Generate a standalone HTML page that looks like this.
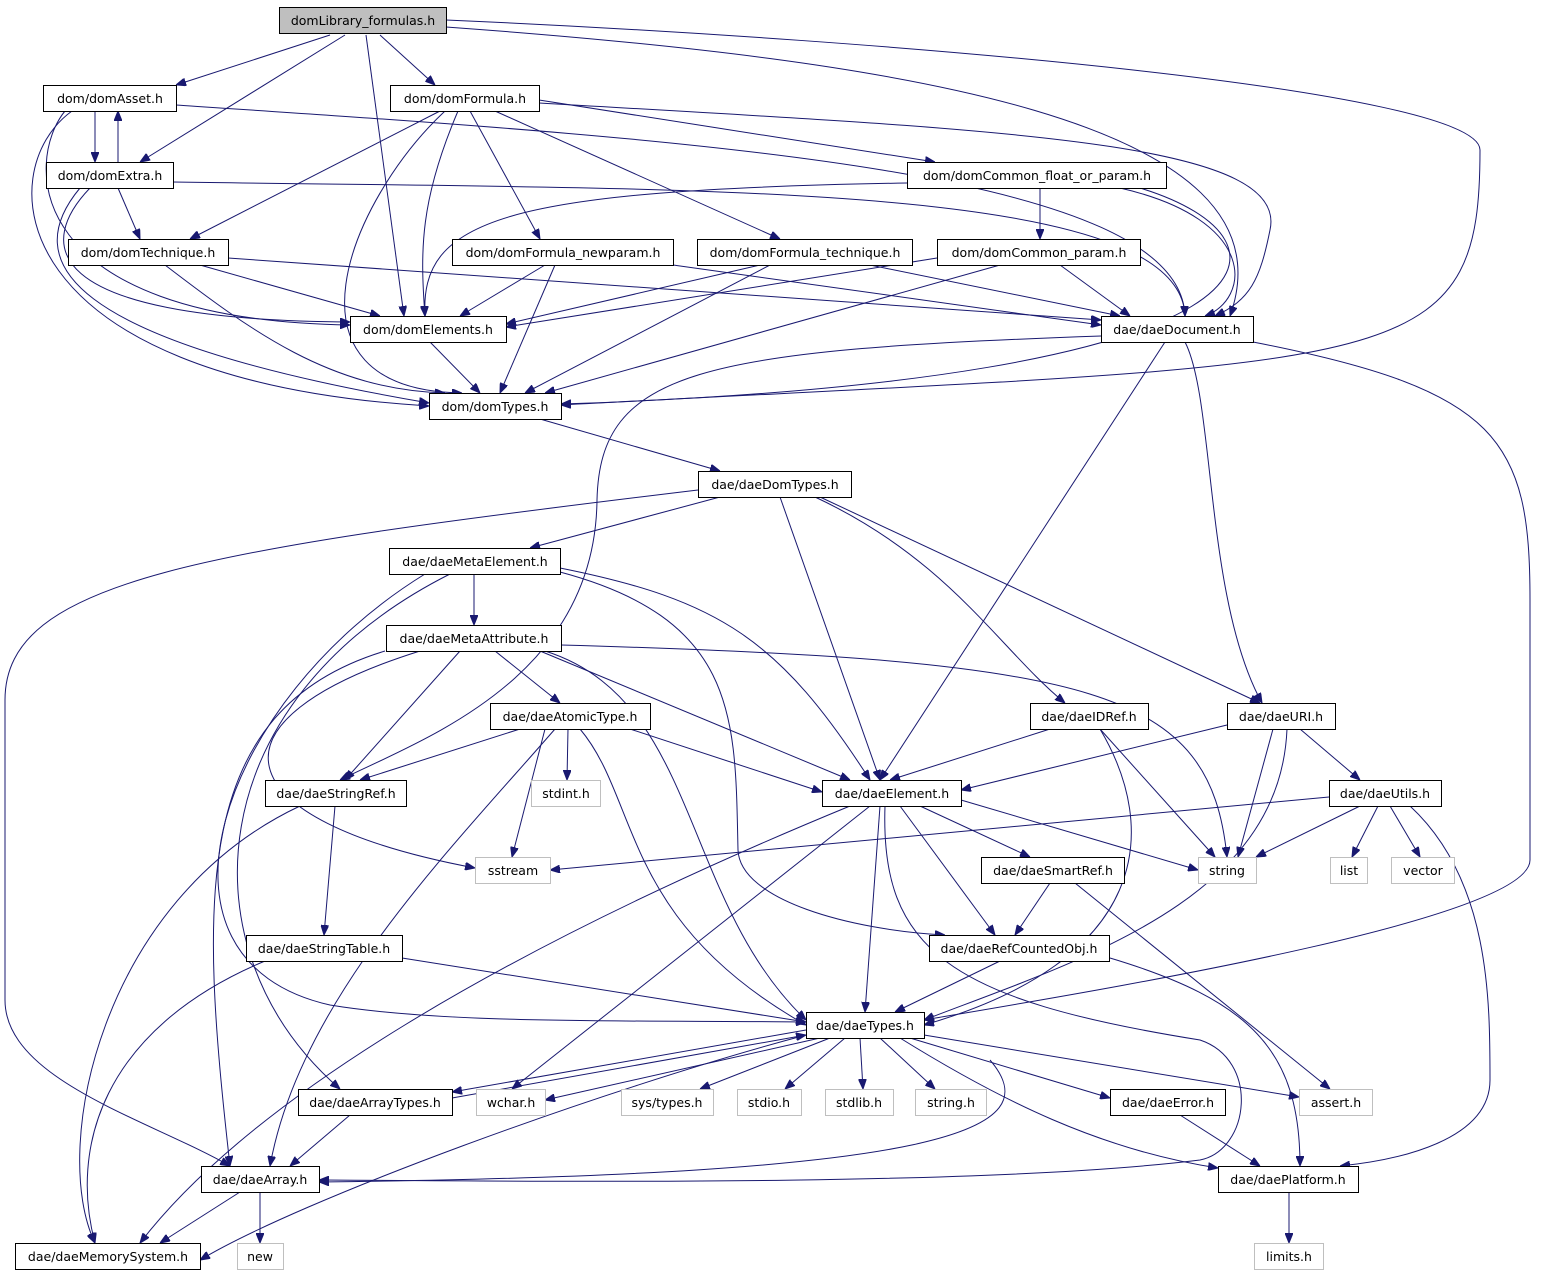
<!DOCTYPE html>
<html><head><meta charset="utf-8"><style>
html,body{margin:0;padding:0;background:#fff;}
svg{display:block;}
text{font-family:"DejaVu Sans","Liberation Sans",sans-serif;font-size:12.5px;fill:#000;}
.n rect{fill:#fff;stroke:#000;stroke-width:1;}
.g rect{fill:#fff;stroke:#bfbfbf;stroke-width:1;}
.g text{fill:#000;}
path{fill:none;stroke:#191970;stroke-width:1;marker-end:url(#a);}
</style></head><body>
<svg width="1548" height="1277" viewBox="0 0 1548 1277" xmlns="http://www.w3.org/2000/svg">
<defs><marker id="a" markerWidth="10" markerHeight="8" refX="10" refY="4" orient="auto" markerUnits="userSpaceOnUse"><polygon points="0,0 10,4 0,8" fill="#191970" stroke="#191970"/></marker></defs>

<!-- edges -->
<path d="M330,35 L176,85"/>
<path d="M345,35 L140,162"/>
<path d="M366,35 L404,316"/>
<path d="M380,35 L435,85"/>
<path d="M446,27 C900,60 1300,120 1230,316"/>
<path d="M446,20 C900,40 1480,90 1480,150 C1480,380 1400,360 561,405"/>
<path d="M95,111 L95,162"/>
<path d="M118,162 L118,111"/>
<path d="M72,111 C-10,170 0,380 429,406"/>
<path d="M65,111 C25,160 20,320 350,325"/>
<path d="M176,105 C700,140 1180,170 1185,316"/>
<path d="M440,111 L190,239"/>
<path d="M445,111 C350,200 270,390 462,393"/>
<path d="M458,111 C420,200 420,250 425,316"/>
<path d="M470,111 L540,239"/>
<path d="M495,111 L780,239"/>
<path d="M539,100 L935,162"/>
<path d="M539,103 C1000,130 1290,140 1270,230 C1260,280 1250,300 1215,316"/>
<path d="M118,188 L140,239"/>
<path d="M90,188 C40,240 30,320 350,322"/>
<path d="M80,188 C20,260 60,340 429,403"/>
<path d="M173,182 C700,190 1180,180 1185,316"/>
<path d="M907,183 C500,190 420,220 425,316"/>
<path d="M1040,188 L1040,239"/>
<path d="M1120,188 C1260,220 1250,300 1205,316"/>
<path d="M1140,188 C1310,240 1300,380 561,404"/>
<path d="M200,265 L380,316"/>
<path d="M165,265 C250,330 330,390 445,393"/>
<path d="M228,258 L1101,320"/>
<path d="M545,265 L460,316"/>
<path d="M555,265 L500,393"/>
<path d="M673,265 L1101,325"/>
<path d="M760,265 L506,324"/>
<path d="M770,265 L525,393"/>
<path d="M870,265 L1120,316"/>
<path d="M937,258 L506,327"/>
<path d="M1000,265 L545,393"/>
<path d="M1060,265 L1130,316"/>
<path d="M430,342 L480,393"/>
<path d="M1101,336 C700,350 600,370 597,500 C595,680 420,740 340,780"/>
<path d="M1165,342 L880,780"/>
<path d="M1185,342 C1215,400 1205,600 1262,703"/>
<path d="M1253,342 C1500,390 1530,440 1530,600 L1530,860 C1530,920 1100,990 924,1020"/>
<path d="M540,419 L720,471"/>
<path d="M698,490 C200,550 5,580 5,700 L5,1000 C5,1080 150,1120 230,1166"/>
<path d="M720,497 L530,548"/>
<path d="M780,497 L880,780"/>
<path d="M815,497 C950,560 1000,650 1065,703"/>
<path d="M820,497 L1260,703"/>
<path d="M474,574 L474,625"/>
<path d="M560,568 C720,600 780,640 870,780"/>
<path d="M560,572 C740,620 735,720 738,850 C740,900 850,930 945,935"/>
<path d="M425,574 C220,700 130,960 330,1005 C450,1025 650,1020 806,1022"/>
<path d="M450,574 C200,700 180,950 340,1089"/>
<path d="M495,651 L560,703"/>
<path d="M460,651 L345,780"/>
<path d="M540,651 L850,780"/>
<path d="M561,645 C1100,660 1210,690 1227,857"/>
<path d="M545,651 C700,700 680,900 806,1020"/>
<path d="M420,651 C200,720 220,820 475,868"/>
<path d="M385,651 C190,710 200,900 230,1166"/>
<path d="M520,729 L360,780"/>
<path d="M568,729 L567,780"/>
<path d="M545,729 L512,857"/>
<path d="M630,729 L822,792"/>
<path d="M580,729 C640,800 620,920 806,1025"/>
<path d="M555,729 C450,850 300,1000 270,1166"/>
<path d="M1050,729 L890,780"/>
<path d="M1100,729 L1215,857"/>
<path d="M1100,729 C1160,830 1150,960 924,1025"/>
<path d="M1227,725 L961,790"/>
<path d="M1273,729 L1238,857"/>
<path d="M1300,729 L1360,780"/>
<path d="M1287,729 C1280,900 1080,960 924,1020"/>
<path d="M1329,797 L550,870"/>
<path d="M1360,806 L1256,857"/>
<path d="M1378,806 L1352,857"/>
<path d="M1390,806 L1420,857"/>
<path d="M1410,806 C1490,880 1490,1000 1490,1080 C1490,1140 1400,1160 1340,1166"/>
<path d="M335,806 L324,935"/>
<path d="M300,806 C100,900 50,1150 95,1243"/>
<path d="M961,800 L1198,870"/>
<path d="M920,806 L1030,857"/>
<path d="M900,806 L995,935"/>
<path d="M880,806 L865,1012"/>
<path d="M870,806 L512,1089"/>
<path d="M850,806 C500,950 250,1100 140,1243"/>
<path d="M885,806 C880,950 950,1000 1200,1040 C1260,1060 1250,1150 1200,1160 C1000,1185 600,1182 319,1180"/>
<path d="M1050,883 L1015,935"/>
<path d="M1075,883 L1330,1089"/>
<path d="M402,958 L806,1022"/>
<path d="M265,961 C100,1030 70,1150 95,1243"/>
<path d="M1000,961 L895,1012"/>
<path d="M1110,958 C1250,1000 1300,1050 1300,1166"/>
<path d="M806,1030 L452,1092"/>
<path d="M452,1098 L806,1035"/>
<path d="M820,1038 L545,1100"/>
<path d="M830,1038 L700,1089"/>
<path d="M845,1038 L785,1089"/>
<path d="M860,1038 L863,1089"/>
<path d="M880,1038 L935,1089"/>
<path d="M910,1038 L1110,1098"/>
<path d="M924,1035 L1299,1097"/>
<path d="M900,1038 C1000,1100 1100,1150 1218,1168"/>
<path d="M806,1035 C600,1090 300,1200 200,1260"/>
<path d="M990,1060 C1050,1130 950,1175 319,1182"/>
<path d="M350,1115 L290,1166"/>
<path d="M240,1192 L160,1243"/>
<path d="M260,1192 L260,1243"/>
<path d="M1180,1115 L1260,1166"/>
<path d="M1289,1192 L1289,1243"/>

<!-- nodes -->
<g class="n"><rect x="279.5" y="7.5" width="167" height="26" style="fill:#bfbfbf"/><text x="363" y="25" text-anchor="middle">domLibrary_formulas.h</text></g>
<g class="n"><rect x="43.5" y="85.5" width="133" height="26"/><text x="110" y="103" text-anchor="middle">dom/domAsset.h</text></g>
<g class="n"><rect x="390.5" y="85.5" width="149" height="26"/><text x="465" y="103" text-anchor="middle">dom/domFormula.h</text></g>
<g class="n"><rect x="46.5" y="162.5" width="127" height="26"/><text x="110" y="180" text-anchor="middle">dom/domExtra.h</text></g>
<g class="n"><rect x="907.5" y="162.5" width="259" height="26"/><text x="1037" y="180" text-anchor="middle">dom/domCommon_float_or_param.h</text></g>
<g class="n"><rect x="68.5" y="239.5" width="160" height="26"/><text x="148" y="257" text-anchor="middle">dom/domTechnique.h</text></g>
<g class="n"><rect x="452.5" y="239.5" width="221" height="26"/><text x="563" y="257" text-anchor="middle">dom/domFormula_newparam.h</text></g>
<g class="n"><rect x="697.5" y="239.5" width="215" height="26"/><text x="805" y="257" text-anchor="middle">dom/domFormula_technique.h</text></g>
<g class="n"><rect x="937.5" y="239.5" width="203" height="26"/><text x="1039" y="257" text-anchor="middle">dom/domCommon_param.h</text></g>
<g class="n"><rect x="350.5" y="316.5" width="156" height="26"/><text x="428" y="334" text-anchor="middle">dom/domElements.h</text></g>
<g class="n"><rect x="1101.5" y="316.5" width="152" height="26"/><text x="1177" y="334" text-anchor="middle">dae/daeDocument.h</text></g>
<g class="n"><rect x="429.5" y="393.5" width="132" height="26"/><text x="495" y="411" text-anchor="middle">dom/domTypes.h</text></g>
<g class="n"><rect x="698.5" y="471.5" width="153" height="26"/><text x="775" y="489" text-anchor="middle">dae/daeDomTypes.h</text></g>
<g class="n"><rect x="389.5" y="548.5" width="171" height="26"/><text x="475" y="566" text-anchor="middle">dae/daeMetaElement.h</text></g>
<g class="n"><rect x="386.5" y="625.5" width="175" height="26"/><text x="474" y="643" text-anchor="middle">dae/daeMetaAttribute.h</text></g>
<g class="n"><rect x="490.5" y="703.5" width="160" height="26"/><text x="570" y="721" text-anchor="middle">dae/daeAtomicType.h</text></g>
<g class="n"><rect x="1030.5" y="703.5" width="118" height="26"/><text x="1089" y="721" text-anchor="middle">dae/daeIDRef.h</text></g>
<g class="n"><rect x="1227.5" y="703.5" width="108" height="26"/><text x="1281" y="721" text-anchor="middle">dae/daeURI.h</text></g>
<g class="n"><rect x="265.5" y="780.5" width="141" height="26"/><text x="336" y="798" text-anchor="middle">dae/daeStringRef.h</text></g>
<g class="g"><rect x="531.5" y="780.5" width="69" height="26"/><text x="566" y="798" text-anchor="middle">stdint.h</text></g>
<g class="n"><rect x="822.5" y="780.5" width="139" height="26"/><text x="892" y="798" text-anchor="middle">dae/daeElement.h</text></g>
<g class="n"><rect x="1329.5" y="780.5" width="112" height="26"/><text x="1385" y="798" text-anchor="middle">dae/daeUtils.h</text></g>
<g class="g"><rect x="475.5" y="857.5" width="75" height="26"/><text x="513" y="875" text-anchor="middle">sstream</text></g>
<g class="g"><rect x="1198.5" y="857.5" width="58" height="26"/><text x="1227" y="875" text-anchor="middle">string</text></g>
<g class="n"><rect x="981.5" y="857.5" width="143" height="26"/><text x="1053" y="875" text-anchor="middle">dae/daeSmartRef.h</text></g>
<g class="g"><rect x="1330.5" y="857.5" width="37" height="26"/><text x="1349" y="875" text-anchor="middle">list</text></g>
<g class="g"><rect x="1391.5" y="857.5" width="63" height="26"/><text x="1423" y="875" text-anchor="middle">vector</text></g>
<g class="n"><rect x="246.5" y="935.5" width="156" height="26"/><text x="324" y="953" text-anchor="middle">dae/daeStringTable.h</text></g>
<g class="n"><rect x="929.5" y="935.5" width="180" height="26"/><text x="1019" y="953" text-anchor="middle">dae/daeRefCountedObj.h</text></g>
<g class="n"><rect x="806.5" y="1012.5" width="118" height="26"/><text x="865" y="1030" text-anchor="middle">dae/daeTypes.h</text></g>
<g class="n"><rect x="298.5" y="1089.5" width="154" height="26"/><text x="375" y="1107" text-anchor="middle">dae/daeArrayTypes.h</text></g>
<g class="g"><rect x="476.5" y="1089.5" width="69" height="26"/><text x="511" y="1107" text-anchor="middle">wchar.h</text></g>
<g class="g"><rect x="621.5" y="1089.5" width="92" height="26"/><text x="667" y="1107" text-anchor="middle">sys/types.h</text></g>
<g class="g"><rect x="737.5" y="1089.5" width="64" height="26"/><text x="769" y="1107" text-anchor="middle">stdio.h</text></g>
<g class="g"><rect x="825.5" y="1089.5" width="68" height="26"/><text x="859" y="1107" text-anchor="middle">stdlib.h</text></g>
<g class="g"><rect x="915.5" y="1089.5" width="71" height="26"/><text x="951" y="1107" text-anchor="middle">string.h</text></g>
<g class="n"><rect x="1110.5" y="1089.5" width="115" height="26"/><text x="1168" y="1107" text-anchor="middle">dae/daeError.h</text></g>
<g class="g"><rect x="1299.5" y="1089.5" width="73" height="26"/><text x="1336" y="1107" text-anchor="middle">assert.h</text></g>
<g class="n"><rect x="201.5" y="1166.5" width="118" height="26"/><text x="260" y="1184" text-anchor="middle">dae/daeArray.h</text></g>
<g class="n"><rect x="1218.5" y="1166.5" width="140" height="26"/><text x="1288" y="1184" text-anchor="middle">dae/daePlatform.h</text></g>
<g class="n"><rect x="15.5" y="1243.5" width="185" height="26"/><text x="108" y="1261" text-anchor="middle">dae/daeMemorySystem.h</text></g>
<g class="g"><rect x="237.5" y="1243.5" width="46" height="26"/><text x="260" y="1261" text-anchor="middle">new</text></g>
<g class="g"><rect x="1254.5" y="1243.5" width="69" height="26"/><text x="1289" y="1261" text-anchor="middle">limits.h</text></g>
</svg>
</body></html>
